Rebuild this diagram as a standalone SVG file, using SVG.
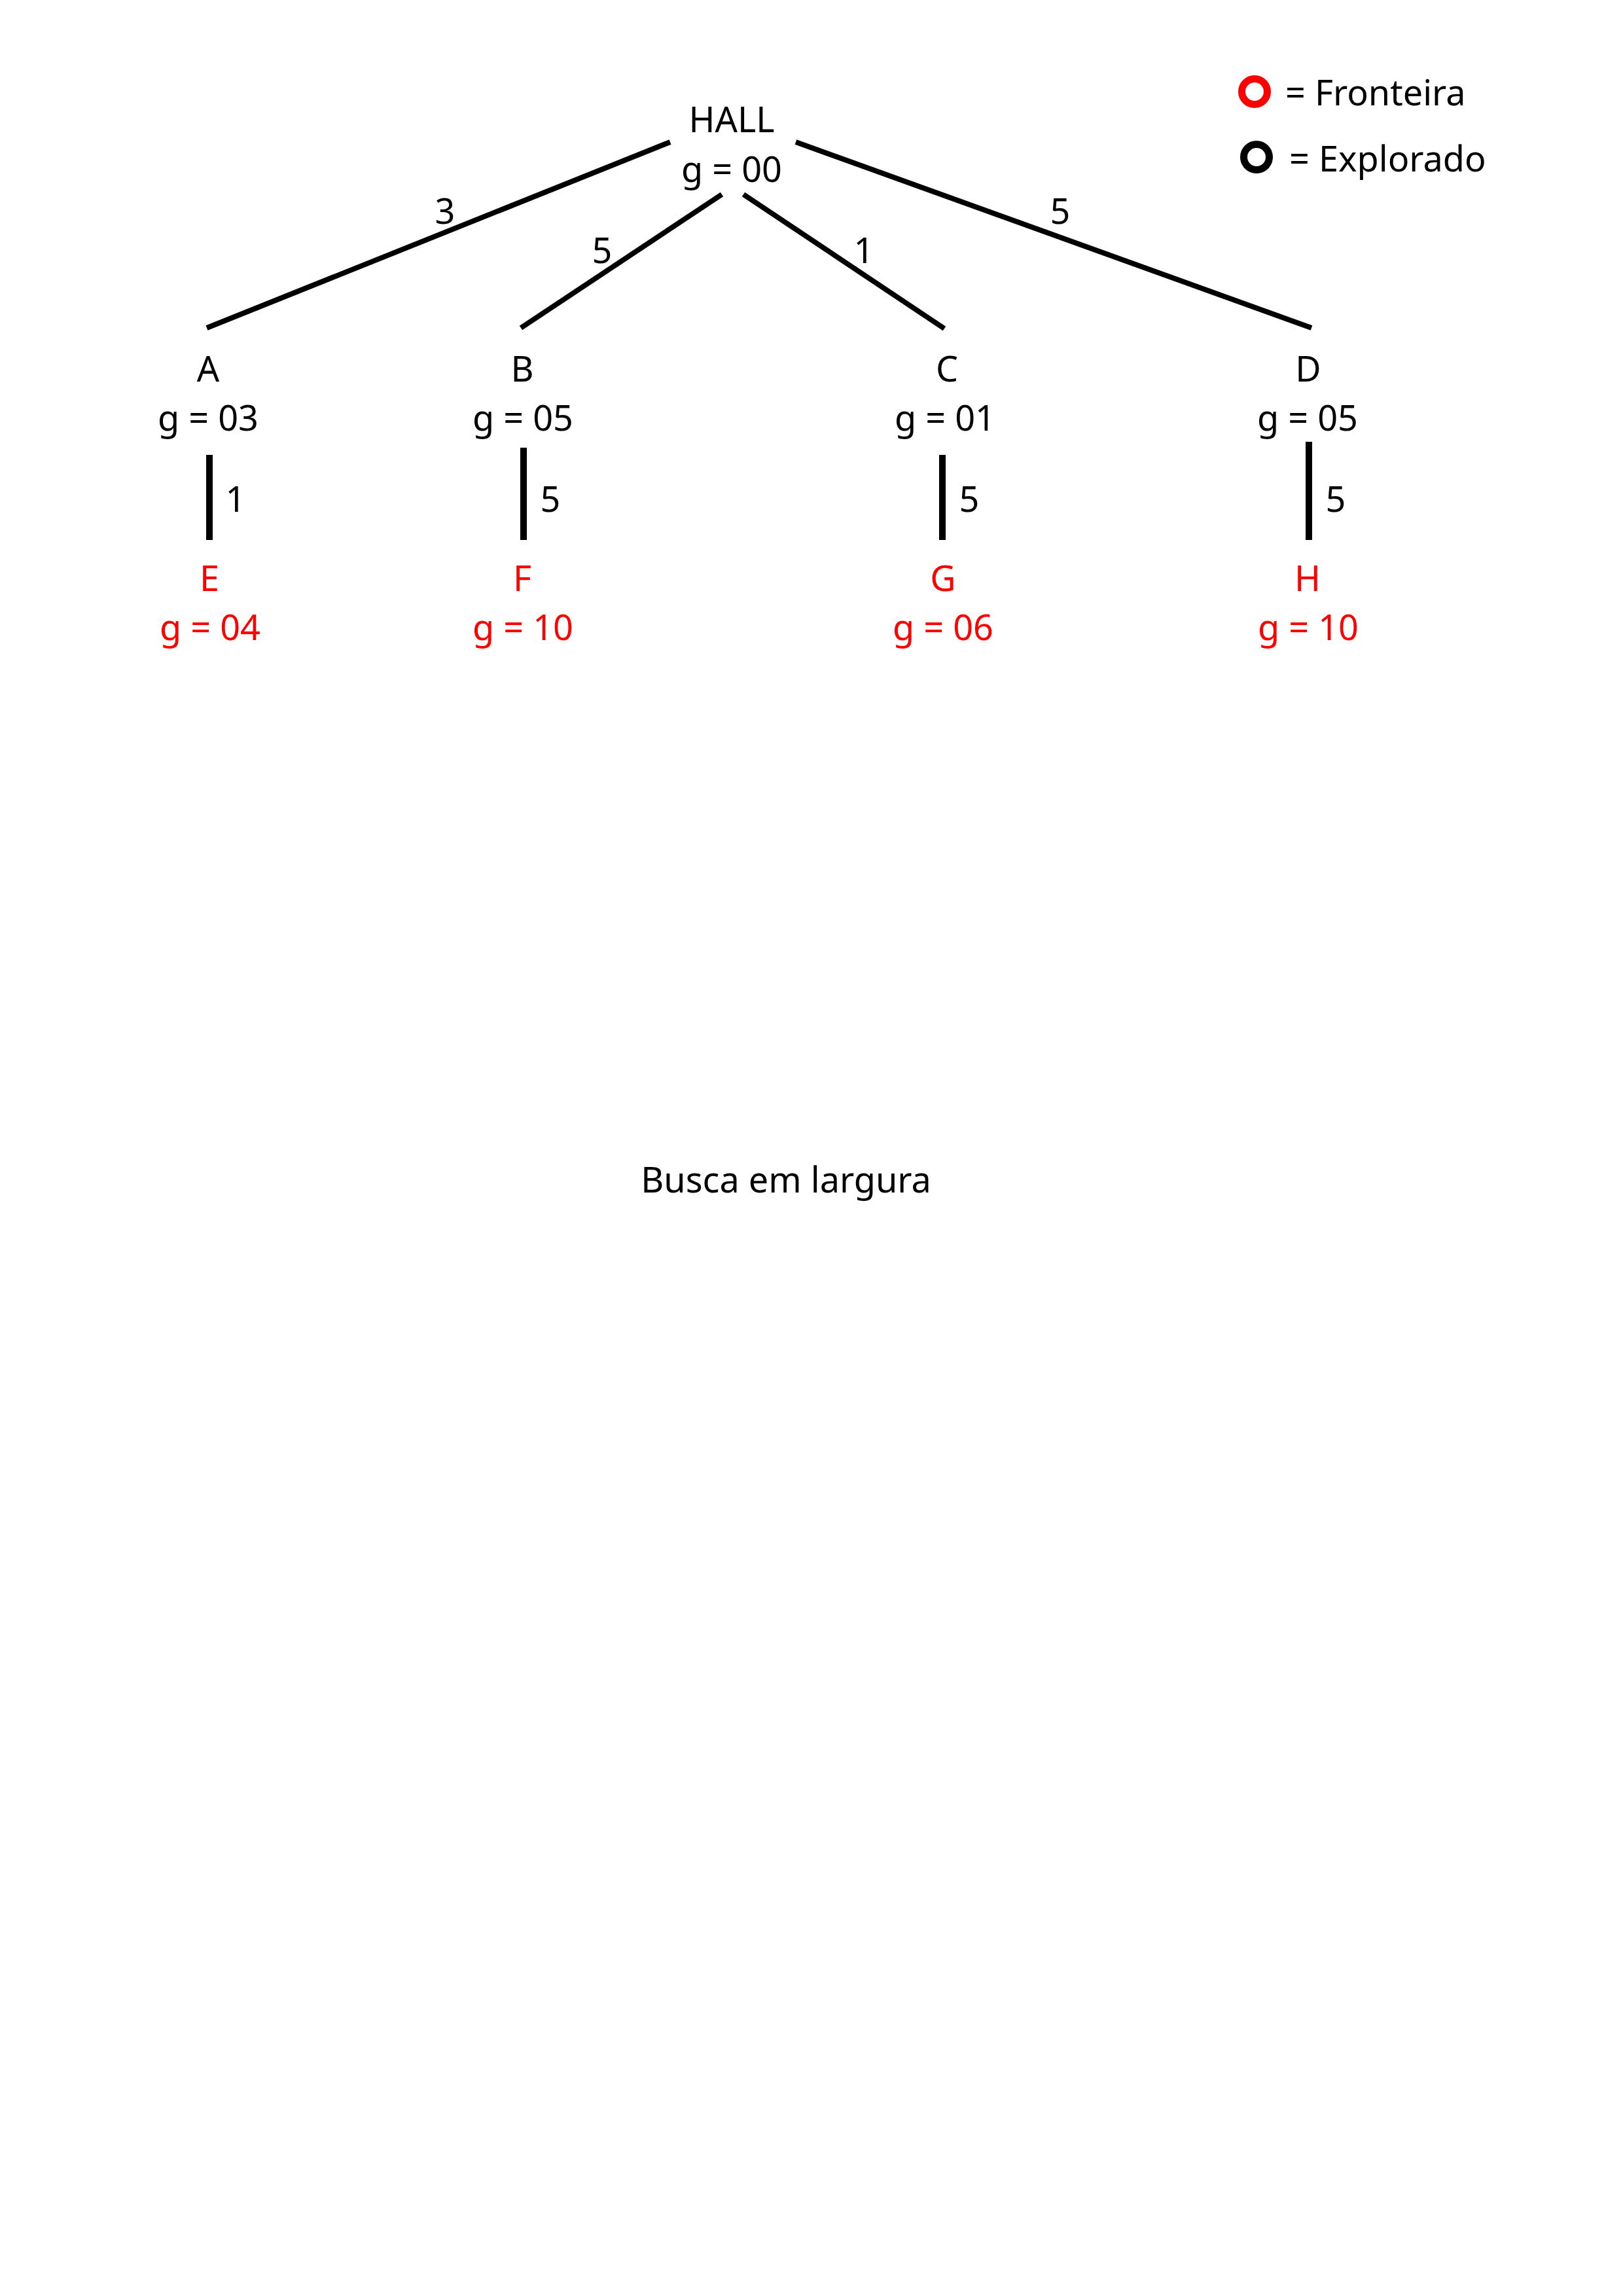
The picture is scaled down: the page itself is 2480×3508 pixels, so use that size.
<svg xmlns="http://www.w3.org/2000/svg" width="2480" height="3508" viewBox="0 0 2480 3508">
<style>
text{font-family:"Noto Sans","Open Sans","DejaVu Sans",sans-serif;font-size:54px;fill:#000;text-anchor:middle}
.r{fill:#ff0000}
.l{text-anchor:start}
.e{stroke:#000;stroke-width:8;fill:none}
.v{stroke:#000;stroke-width:10;fill:none}
</style>
<rect width="2480" height="3508" fill="#fff"/>
<g id="connectors">
<line class="e" x1="1024" y1="217" x2="316" y2="501"/>
<line class="e" x1="1103" y1="297" x2="796" y2="501"/>
<line class="e" x1="1136" y1="297" x2="1443" y2="502"/>
<line class="e" x1="1216" y1="217" x2="2004" y2="501"/>
<line class="v" x1="320" y1="695" x2="320" y2="825"/>
<line class="v" x1="800" y1="684" x2="800" y2="825"/>
<line class="v" x1="1440" y1="695" x2="1440" y2="825"/>
<line class="v" x1="2000" y1="675" x2="2000" y2="825"/>
<text x="680" y="342">3</text>
<text x="920" y="402">5</text>
<text x="1320" y="402">1</text>
<text x="1620" y="342">5</text>
<text x="360" y="782">1</text>
<text x="841" y="782">5</text>
<text x="1481" y="782">5</text>
<text x="2041" y="782">5</text>
</g>
<g id="node-hall"><text x="1118" y="202">HALL</text><text x="1118" y="278">g = 00</text></g>
<g id="node-a"><text x="318" y="583">A</text><text x="318" y="658">g = 03</text></g>
<g id="node-b"><text x="798" y="583">B</text><text x="799" y="658">g = 05</text></g>
<g id="node-c"><text x="1447" y="583">C</text><text x="1444" y="658">g = 01</text></g>
<g id="node-d"><text x="1999" y="583">D</text><text x="1998" y="658">g = 05</text></g>
<g id="node-e"><text class="r" x="320" y="903">E</text><text class="r" x="321" y="978">g = 04</text></g>
<g id="node-f"><text class="r" x="798" y="903">F</text><text class="r" x="799" y="978">g = 10</text></g>
<g id="node-g"><text class="r" x="1441" y="903">G</text><text class="r" x="1441" y="978">g = 06</text></g>
<g id="node-h"><text class="r" x="1998" y="903">H</text><text class="r" x="1999" y="978">g = 10</text></g>
<g id="legend">
<circle cx="1917" cy="140" r="19.5" fill="none" stroke="#ff0000" stroke-width="11"/>
<text class="l" x="1964" y="161">= Fronteira</text>
<circle cx="1920" cy="240" r="19.5" fill="none" stroke="#000" stroke-width="11"/>
<text class="l" x="1970" y="262">= Explorado</text>
</g>
<g id="title"><text x="1201" y="1822">Busca em largura</text></g>
</svg>
